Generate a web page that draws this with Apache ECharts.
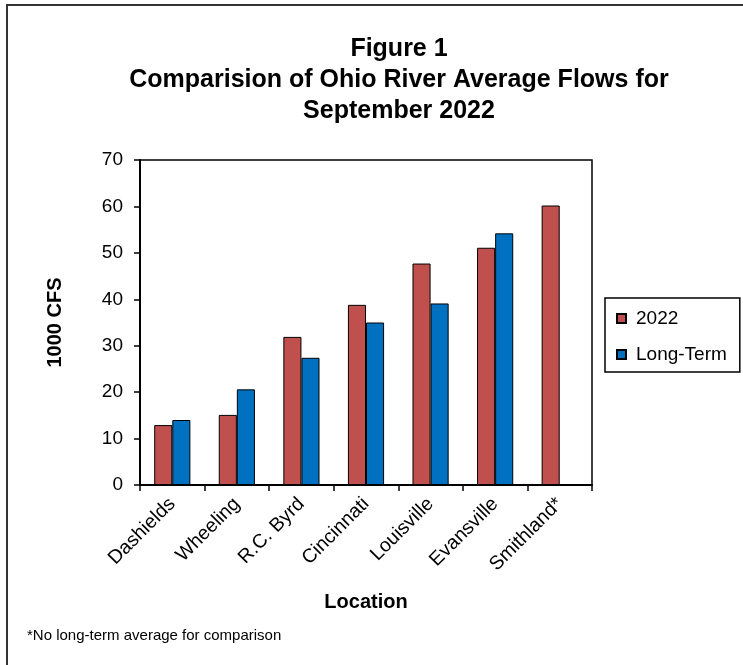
<!DOCTYPE html>
<html>
<head>
<meta charset="utf-8">
<script src="https://cdn.jsdelivr.net/npm/echarts@6/dist/echarts.min.js"></script>
<style>html,body{margin:0;padding:0;background:#fff;}#c{width:743px;height:665px;}</style>
</head>
<body>
<div id="c"></div>
<script>
var categories = ['Dashields', 'Wheeling', 'R.C. Byrd', 'Cincinnati', 'Louisville', 'Evansville', 'Smithland*'];
var flow2022 = [12.9, 15.1, 31.9, 38.8, 47.7, 51.1, 60.2];
var longTerm = [14.0, 20.6, 27.4, 35.0, 39.1, 54.2, null];
var yTicks = [0, 10, 20, 30, 40, 50, 60, 70];

var FONT = '"Liberation Sans", Arial, sans-serif';
var chart = echarts.init(document.getElementById('c'), null, {renderer: 'canvas'});
chart.setOption({
  backgroundColor: '#fff',
  animation: false,
  title: {
    text: 'Figure 1\nComparision of Ohio River Average Flows for\nSeptember 2022',
    left: 399, top: 34, textAlign: 'center', padding: 0,
    textStyle: {fontFamily: FONT, fontWeight: 'bold', fontSize: 25, lineHeight: 31, color: '#000'}
  },
  legend: {
    orient: 'vertical', left: 605, top: 298,
    padding: [11, 13, 8, 11],
    borderColor: '#000', borderWidth: 1.5,
    itemWidth: 9, itemHeight: 9, itemGap: 17,
    icon: 'rect',
    textStyle: {fontFamily: FONT, fontSize: 19, color: '#000', lineHeight: 19, padding: [0, 0, 0, 5]},
    data: ['2022', 'Long-Term']
  },
  grid: {left: 140, right: 151, top: 160, bottom: 180, show: true, borderColor: '#000', borderWidth: 1.5, containLabel: false},
  xAxis: {
    type: 'category', data: categories,
    name: 'Location', nameLocation: 'middle', nameGap: 107,
    nameTextStyle: {fontFamily: FONT, fontWeight: 'bold', fontSize: 20, color: '#000'},
    axisLine: {lineStyle: {color: '#000', width: 2}},
    axisTick: {show: true, length: 6, lineStyle: {color: '#000', width: 1.5}},
    axisLabel: {rotate: 45, fontFamily: FONT, fontSize: 19.5, color: '#000', margin: 16, interval: 0}
  },
  yAxis: {
    type: 'value', min: yTicks[0], max: yTicks[yTicks.length - 1], interval: 10,
    name: '1000 CFS', nameLocation: 'middle', nameGap: 75, nameRotate: 90,
    nameTextStyle: {fontFamily: FONT, fontWeight: 'bold', fontSize: 20, color: '#000'},
    splitLine: {show: false},
    axisLine: {show: true, lineStyle: {color: '#000', width: 2}},
    axisTick: {show: true, length: 6, lineStyle: {color: '#000', width: 1.5}},
    axisLabel: {fontFamily: FONT, fontSize: 19, color: '#000', margin: 17}
  },
  series: [
    {name: '2022', type: 'bar', data: flow2022, barGap: '0%', barCategoryGap: '44%',
     itemStyle: {color: '#C0504D', borderColor: '#000', borderWidth: 1}},
    {name: 'Long-Term', type: 'bar', data: longTerm, barGap: '0%', barCategoryGap: '44%',
     itemStyle: {color: '#0070C0', borderColor: '#000', borderWidth: 1}}
  ],
  graphic: [
    {type: 'polyline', silent: true, shape: {points: [[7, 665], [7, 5], [743, 5]]},
     style: {stroke: '#333', lineWidth: 2, fill: null}},
    {type: 'text', left: 27, top: 628,
     style: {text: '*No long-term average for comparison', font: '15px ' + FONT, fill: '#000'}}
  ]
});
</script>
</body>
</html>
